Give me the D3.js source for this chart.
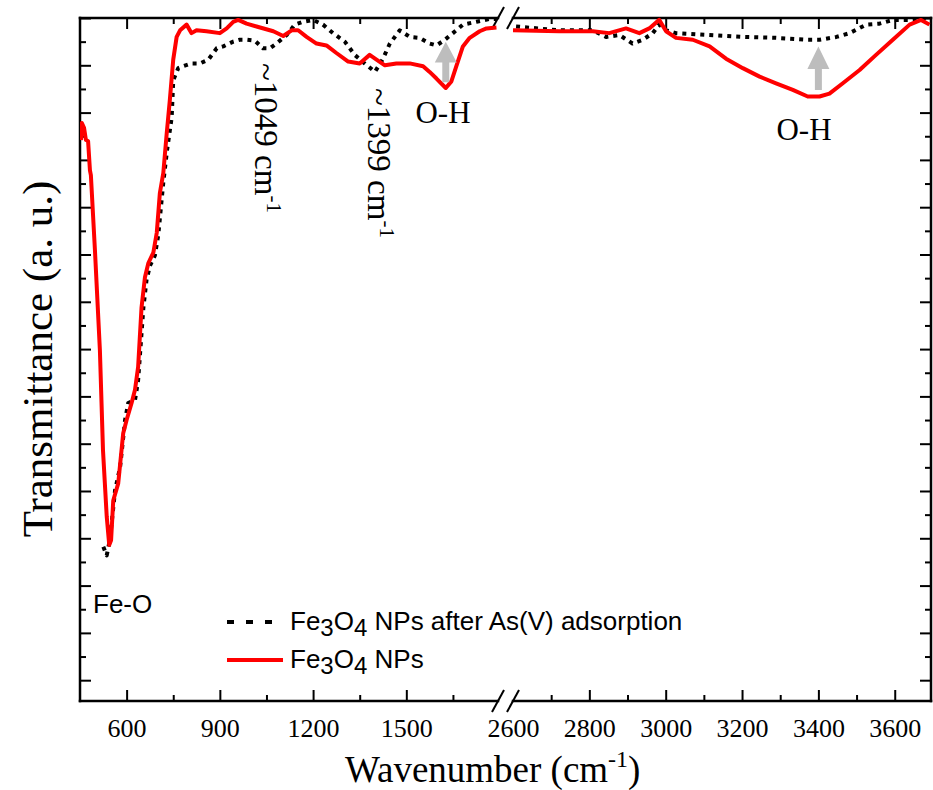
<!DOCTYPE html>
<html>
<head>
<meta charset="utf-8">
<script src="https://cdn.jsdelivr.net/npm/d3@7"></script>
<style>
  body { margin: 0; background: #fff; }
</style>
</head>
<body>
<div id="chart"></div>
<script>
// FTIR spectra: wavenumber (cm-1) vs transmittance (a. u.)
// the x axis is broken between 1795 and 2600 cm-1

// Fe3O4 NPs (red), [wavenumber, transmittance]
const bareLow = [
  [453, 87.1], [456, 88.9], [463, 88.4], [469, 87.1], [476, 87.0], [482, 83.9],
  [485, 83.4], [498, 75.5], [514, 64.9], [524, 54.3], [536, 47.3], [544, 44.3],
  [550, 44.8], [557, 49.0], [573, 50.8], [589, 56.1], [600, 57.5], [616, 59.3],
  [627, 60.7], [637, 63.1], [648, 69.4], [659, 72.6], [670, 74.1], [686, 75.2],
  [697, 77.3], [707, 81.5], [718, 83.6], [729, 87.8], [739, 91.3], [750, 95.6],
  [761, 98.0], [772, 98.7], [793, 99.3], [809, 98.4], [825, 98.7], [857, 98.6],
  [900, 98.4], [922, 98.9], [943, 99.6], [959, 99.8], [986, 99.4], [1018, 99.1],
  [1072, 98.6], [1104, 98.1], [1131, 98.7], [1152, 98.7], [1179, 98.0], [1211, 97.3],
  [1243, 97.1], [1275, 96.3], [1313, 95.4], [1350, 95.2], [1382, 96.1], [1404, 95.6],
  [1431, 95.0], [1468, 95.2], [1511, 95.2], [1554, 94.9], [1575, 94.3], [1597, 93.6],
  [1627, 92.6], [1645, 93.3], [1661, 94.9], [1682, 97.0], [1704, 97.9], [1736, 98.6],
  [1758, 98.9], [1790, 99.0]
];
const bareHigh = [
  [2600, 98.7], [2721, 98.6], [2809, 98.6], [2852, 98.4], [2896, 98.9], [2931, 98.4],
  [2957, 98.9], [2983, 99.8], [3001, 98.6], [3027, 97.9], [3071, 97.7], [3115, 97.0],
  [3158, 95.7], [3202, 94.7], [3246, 93.8], [3289, 93.1], [3333, 92.4], [3372, 91.7],
  [3403, 91.7], [3429, 92.0], [3464, 93.1], [3508, 94.5], [3551, 96.1], [3595, 97.7],
  [3639, 99.3], [3669, 99.8], [3691, 99.3]
];

// Fe3O4 NPs after As(V) adsorption (black dotted)
const asLow = [
  [525, 44.1], [536, 43.2], [546, 44.8], [563, 50.1], [579, 52.5], [595, 57.5],
  [605, 59.3], [627, 59.6], [637, 61.7], [654, 69.4], [664, 72.3], [675, 73.8],
  [691, 74.9], [702, 77.1], [718, 82.6], [730, 86.0], [745, 89.5], [750, 93.4],
  [766, 94.7], [782, 94.9], [809, 95.2], [836, 95.2], [863, 95.6], [890, 96.8],
  [911, 97.0], [943, 97.5], [964, 97.7], [986, 97.7], [1013, 97.6], [1039, 96.8],
  [1061, 96.8], [1082, 97.3], [1115, 98.2], [1141, 99.3], [1168, 99.6], [1200, 99.8],
  [1232, 99.3], [1264, 98.4], [1302, 97.5], [1334, 96.1], [1366, 95.2], [1399, 94.3],
  [1425, 95.7], [1447, 97.3], [1479, 98.7], [1511, 98.0], [1543, 97.9], [1575, 97.3],
  [1597, 97.1], [1624, 97.7], [1650, 98.4], [1682, 99.3], [1726, 99.6], [1768, 99.9],
  [1790, 99.9]
];
const asHigh = [
  [2608, 99.1], [2721, 98.7], [2809, 98.7], [2844, 98.0], [2879, 98.2], [2913, 97.3],
  [2940, 97.7], [2966, 98.4], [2983, 99.3], [3001, 98.7], [3027, 98.4], [3115, 98.2],
  [3202, 98.0], [3289, 97.9], [3368, 97.7], [3403, 97.7], [3447, 98.0], [3482, 98.4],
  [3525, 99.3], [3560, 99.4], [3595, 99.8], [3639, 99.8], [3674, 99.9], [3691, 99.6]
];

// ticks
const lowTicks = [600, 900, 1200, 1500];
const lowMinor = [750, 1050, 1350, 1650];
const highTicks = [2600, 2800, 3000, 3200, 3400, 3600];
const highMinor = [2700, 2900, 3100, 3300, 3500];
const yMajor = [30, 35, 40, 45, 50, 55, 60, 65, 70, 75, 80, 85, 90, 95, 100];
const yMinor = [32.5, 37.5, 42.5, 47.5, 52.5, 57.5, 62.5, 67.5, 72.5, 77.5, 82.5, 87.5, 92.5, 97.5];

// O-H arrows: [wavenumber, tip, head base, tail]
const arrows = [[1627, 97.5, 95.3, 93.2], [3400, 97.0, 94.6, 92.4]];

const serif = '"Liberation Serif", "Times New Roman", serif';
const sans = '"Liberation Sans", Arial, sans-serif';

// 1. svg and frame
const W = 933, H = 790;
const margin = { top: 18, right: 931, bottom: 701, left: 80 };
const breakL = 498, breakR = 513;

const svg = d3
  .select('#chart')
  .append('svg')
  .attr('width', W)
  .attr('height', H);

// 2. scales, two x pieces for the broken axis
const xLow = d3.scaleLinear().domain([450, 1795]).range([margin.left, breakL]);
const xHigh = d3.scaleLinear().domain([2600, 3695]).range([breakR, margin.right]);
const y = d3.scaleLinear().domain([27.8, 100]).range([margin.bottom, margin.top]);

svg.append('clipPath').attr('id', 'clipLow')
  .append('rect').attr('x', margin.left).attr('y', 0).attr('width', breakL - margin.left).attr('height', H);
svg.append('clipPath').attr('id', 'clipHigh')
  .append('rect').attr('x', breakR).attr('y', 0).attr('width', margin.right - breakR).attr('height', H);

// 3. axes (ticks point inward)
function styleAxis(g) {
  g.select('.domain').remove();
  g.selectAll('line').attr('stroke', '#000').attr('stroke-width', 2);
  g.attr('font-family', serif).attr('font-size', 26);
  g.selectAll('text').attr('fill', '#000');
}

function xAxes(scale, major, minor, hideFirst) {
  const bx = svg.append('g').attr('transform', 'translate(0,' + margin.bottom + ')')
    .call(d3.axisBottom(scale).tickValues(major).tickSize(-11).tickPadding(17.5).tickFormat(d3.format('d')))
    .call(styleAxis);
  if (hideFirst) bx.select('.tick line').remove();
  svg.append('g').attr('transform', 'translate(0,' + margin.bottom + ')')
    .call(d3.axisBottom(scale).tickValues(minor).tickSize(-6).tickFormat(''))
    .call(styleAxis);
  const tx = svg.append('g').attr('transform', 'translate(0,' + margin.top + ')')
    .call(d3.axisTop(scale).tickValues(major).tickSize(-11).tickFormat(''))
    .call(styleAxis);
  if (hideFirst) tx.select('.tick line').remove();
  svg.append('g').attr('transform', 'translate(0,' + margin.top + ')')
    .call(d3.axisTop(scale).tickValues(minor).tickSize(-6).tickFormat(''))
    .call(styleAxis);
}
xAxes(xLow, lowTicks, lowMinor, false);
xAxes(xHigh, highTicks, highMinor, true);

svg.append('g').attr('transform', 'translate(' + margin.left + ',0)')
  .call(d3.axisLeft(y).tickValues(yMajor).tickSize(-11).tickFormat(''))
  .call(styleAxis);
svg.append('g').attr('transform', 'translate(' + margin.left + ',0)')
  .call(d3.axisLeft(y).tickValues(yMinor).tickSize(-6).tickFormat(''))
  .call(styleAxis);
svg.append('g').attr('transform', 'translate(' + margin.right + ',0)')
  .call(d3.axisRight(y).tickValues(yMajor).tickSize(-11).tickFormat(''))
  .call(styleAxis);
svg.append('g').attr('transform', 'translate(' + margin.right + ',0)')
  .call(d3.axisRight(y).tickValues(yMinor).tickSize(-6).tickFormat(''))
  .call(styleAxis);

// frame lines, split at the break
const frame = [
  [margin.left, margin.top, margin.left, margin.bottom],
  [margin.right, margin.top, margin.right, margin.bottom],
  [margin.left, margin.top, breakL, margin.top], [breakR, margin.top, margin.right, margin.top],
  [margin.left, margin.bottom, breakL, margin.bottom], [breakR, margin.bottom, margin.right, margin.bottom]
];
svg.append('g').selectAll('line').data(frame).join('line')
  .attr('x1', d => d[0]).attr('y1', d => d[1]).attr('x2', d => d[2]).attr('y2', d => d[3])
  .attr('stroke', '#000').attr('stroke-width', 2.5).attr('stroke-linecap', 'square');

// break marks //
const slashes = [];
[margin.top, margin.bottom].forEach(yy => [breakL, breakR].forEach(xx => slashes.push([xx, yy])));
svg.append('g').selectAll('line').data(slashes).join('line')
  .attr('x1', d => d[0] - 6).attr('y1', d => d[1] + 11)
  .attr('x2', d => d[0] + 6).attr('y2', d => d[1] - 11)
  .attr('stroke', '#000').attr('stroke-width', 2);

// 4. spectra
function drawLine(data, scale, clip, color, dash, width) {
  const line = d3.line().x(d => scale(d[0])).y(d => y(d[1]));
  svg.append('path')
    .datum(data)
    .attr('clip-path', 'url(#' + clip + ')')
    .attr('d', line)
    .attr('fill', 'none')
    .attr('stroke', color)
    .attr('stroke-width', width)
    .attr('stroke-dasharray', dash)
    .attr('stroke-linejoin', 'round');
}
drawLine(asLow, xLow, 'clipLow', '#000', '4,5', 4);
drawLine(asHigh, xHigh, 'clipHigh', '#000', '4,5', 4);
drawLine(bareLow, xLow, 'clipLow', '#ff0000', null, 4);
drawLine(bareHigh, xHigh, 'clipHigh', '#ff0000', null, 4);

// 5. arrows and peak labels
const arrowX = d => (d[0] > 2000 ? xHigh(d[0]) : xLow(d[0]));
svg.append('g').selectAll('path').data(arrows).join('path')
  .attr('d', d => {
    const x = arrowX(d);
    return 'M' + x + ',' + y(d[1]) +
      'L' + (x + 11) + ',' + y(d[2]) + 'L' + (x + 3.5) + ',' + y(d[2]) +
      'L' + (x + 3.5) + ',' + y(d[3]) + 'L' + (x - 3.5) + ',' + y(d[3]) +
      'L' + (x - 3.5) + ',' + y(d[2]) + 'L' + (x - 11) + ',' + y(d[2]) + 'Z';
  })
  .attr('fill', '#bdbdbd');

function cmLabel(g, text) {
  g.append('tspan').text(text + ' cm');
  g.append('tspan').attr('font-size', 21).attr('dy', -12).text('-1');
}

const ohLabels = [[1627, 'O-H', 443, 123], [3400, 'O-H', 804, 140]];
svg.append('g').selectAll('text').data(ohLabels).join('text')
  .attr('x', d => d[2]).attr('y', d => d[3])
  .attr('text-anchor', 'middle')
  .attr('font-family', serif).attr('font-size', 31)
  .text(d => d[1]);

svg.append('text')
  .attr('transform', 'translate(255,63) rotate(90)')
  .attr('font-family', serif).attr('font-size', 33)
  .call(cmLabel, '~1049');
svg.append('text')
  .attr('transform', 'translate(368,88) rotate(90)')
  .attr('font-family', serif).attr('font-size', 33)
  .call(cmLabel, '~1399');

svg.append('text')
  .attr('x', 93).attr('y', 613)
  .attr('font-family', sans).attr('font-size', 26)
  .text('Fe-O');

// 6. legend
const legend = [
  { label: ' NPs after As(V) adsorption', color: '#000', dash: '7,12', y: 622 },
  { label: ' NPs', color: '#ff0000', dash: null, y: 660 }
];
const lg = svg.append('g').selectAll('g').data(legend).join('g');
lg.append('line')
  .attr('x1', 227).attr('x2', d => (d.dash ? 272 : 283))
  .attr('y1', d => d.y).attr('y2', d => d.y)
  .attr('stroke', d => d.color).attr('stroke-width', 4)
  .attr('stroke-dasharray', d => d.dash);
const lt = lg.append('text')
  .attr('x', 290).attr('y', d => d.y + 8)
  .attr('font-family', sans).attr('font-size', 26);
lt.append('tspan').text('Fe');
lt.append('tspan').attr('dy', 6).attr('font-size', 24).text('3');
lt.append('tspan').attr('dy', -6).text('O');
lt.append('tspan').attr('dy', 6).attr('font-size', 24).text('4');
lt.append('tspan').attr('dy', -6).text(d => d.label);

// 7. axis titles
const xt = svg.append('text')
  .attr('x', 345).attr('y', 782)
  .attr('font-family', serif).attr('font-size', 37);
xt.append('tspan').text('Wavenumber (cm');
xt.append('tspan').attr('font-size', 24).attr('dy', -15).text('-1');
xt.append('tspan').attr('dy', 15).text(')');

svg.append('text')
  .attr('transform', 'translate(52,359) rotate(-90)')
  .attr('text-anchor', 'middle')
  .attr('font-family', serif).attr('font-size', 43)
  .text('Transmittance (a. u.)');
</script>
</body>
</html>
